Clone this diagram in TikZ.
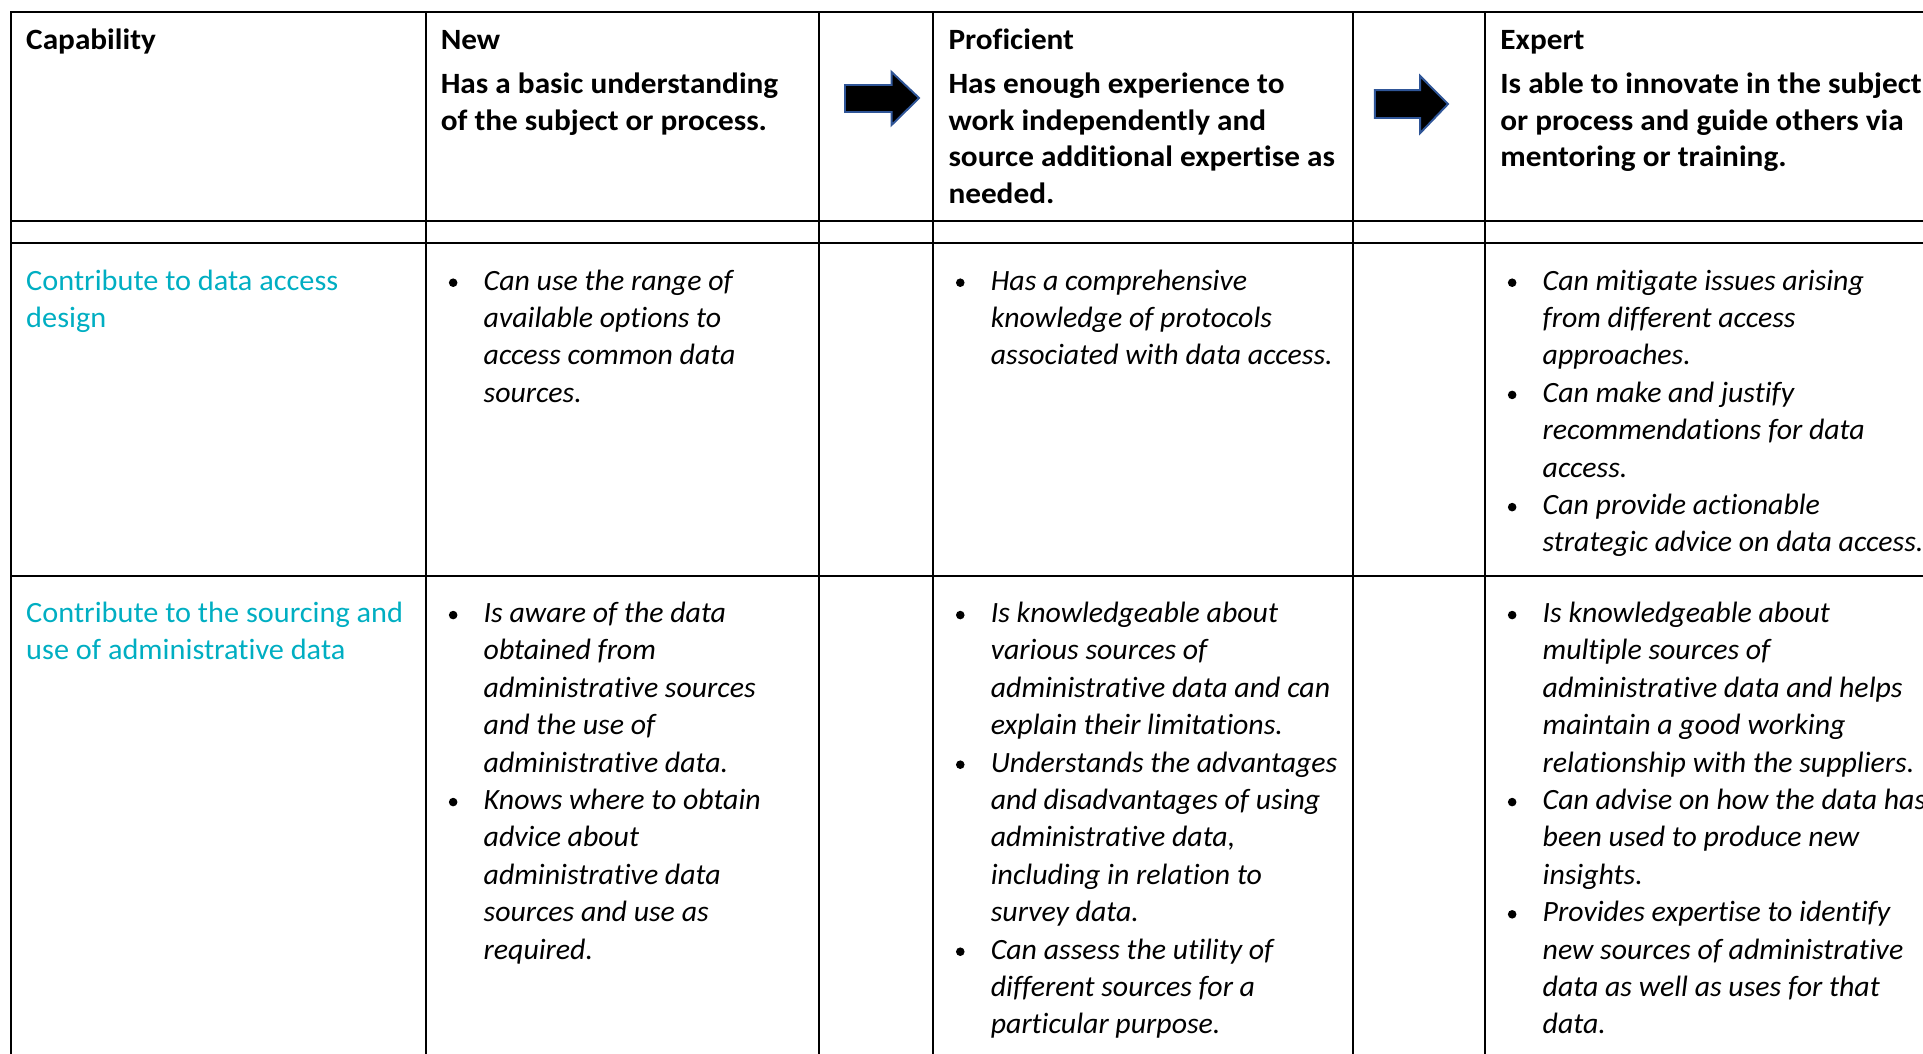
\documentclass[tikz,border=0pt]{standalone}
\usepackage{fontspec}
\setmainfont[Ligatures=NoCommon]{Carlito}
\newfontfamily\hdrfont[Ligatures=NoCommon,FakeStretch=1.062]{Carlito}
\newfontfamily\bodyfont[Ligatures=NoCommon,FakeStretch=1.014]{Carlito}
\newfontfamily\capfont[Ligatures=NoCommon,FakeStretch=1.03]{Carlito}
\definecolor{capcyan}{RGB}{0,174,194}
\definecolor{arrowblue}{RGB}{47,85,151}
\tikzset{
  gridline/.style={line width=0.8pt, black},
  hdrtxt/.style={font=\hdrfont\fontsize{12}{15}\selectfont\bfseries, anchor=base west, inner sep=0pt},
  bodytxt/.style={font=\bodyfont\fontsize{12}{15}\selectfont\itshape, anchor=base west, inner sep=0pt},
  captxt/.style={font=\capfont\fontsize{12}{15}\selectfont, text=capcyan, anchor=base west, inner sep=0pt},
  bulletdot/.style={circle, fill=black, inner sep=0pt, minimum size=3.5pt},
  fatarrow/.style={fill=black, draw=arrowblue, line width=0.8pt, line join=miter}
}
\begin{document}
\begin{tikzpicture}[x=0.5pt,y=-0.5pt]
\useasboundingbox (0,0) rectangle (1568,859);
\clip (0,0) rectangle (1568,859);
% grid
\draw[gridline] (1568,10) -- (9,10) -- (9,859);
\foreach \yy in {180,198,470} \draw[gridline] (9,\yy) -- (1568,\yy);
\foreach \xx in {347,668,761,1103,1211} \draw[gridline] (\xx,10) -- (\xx,859);
% arrows
\draw[fatarrow] (689,69.3) -- (727,69.3) -- (727,58.7) -- (749.4,79.9) -- (727,101.9) -- (727,91.3) -- (689,91.3) -- cycle;
\draw[fatarrow] (1121,73.4) -- (1158,73.4) -- (1158,62) -- (1180.7,84.8) -- (1158,108.5) -- (1158,96.2) -- (1121,96.2) -- cycle;
% header
\node[hdrtxt] (hcap) at (21,40.5) {Capability};
\node[hdrtxt] (hnew) at (359,40.5) {New};
\foreach \t [count=\i from 0] in {Has a basic understanding, of the subject or process.}
  \node[hdrtxt] (hnew-\i) at (359,76+30*\i) {\t};
\node[hdrtxt] (hpro) at (773,40.5) {Proficient};
\foreach \t [count=\i from 0] in {Has enough experience to, work independently and, source additional expertise as, needed.}
  \node[hdrtxt] (hpro-\i) at (773,76+30*\i) {\t};
\node[hdrtxt] (hexp) at (1223,40.5) {Expert};
\foreach \t [count=\i from 0] in {Is able to innovate in the subject, or process and guide others via, mentoring or training.}
  \node[hdrtxt] (hexp-\i) at (1223,76+30*\i) {\t};
% row 1
\foreach \t [count=\i from 0] in {Contribute to data access, design}
  \node[captxt] (c1-\i) at (21,236.5+30.5*\i) {\t};
\foreach \t [count=\i from 0] in {Can use the range of, available options to, access common data, sources.}
  \node[bodytxt] (n1-\i) at (394,236.5+30.5*\i) {\t};
\foreach \t [count=\i from 0] in {Has a comprehensive, knowledge of protocols, associated with data access.}
  \node[bodytxt] (p1-\i) at (807.5,236.5+30.5*\i) {\t};
\foreach \t [count=\i from 0] in {Can mitigate issues arising, from different access, approaches., Can make and justify, recommendations for data, access., Can provide actionable, strategic advice on data access.}
  \node[bodytxt] (e1-\i) at (1257.5,236.5+30.5*\i) {\t};
\node[bulletdot] (bn1-0) at (369.5,230.5) {};
\node[bulletdot] (bp1-0) at (783,230.5) {};
\foreach \k in {0,3,6} \node[bulletdot] (be1-\k) at (1233,230.5+30.5*\k) {};
% row 2
\foreach \t [count=\i from 0] in {Contribute to the sourcing and, use of administrative data}
  \node[captxt] (c2-\i) at (21,507.5+30.5*\i) {\t};
\foreach \t [count=\i from 0] in {Is aware of the data, obtained from, administrative sources, and the use of, administrative data., Knows where to obtain, advice about, administrative data, sources and use as, required.}
  \node[bodytxt] (n2-\i) at (394,507.5+30.5*\i) {\t};
\foreach \t [count=\i from 0] in {Is knowledgeable about, various sources of, administrative data and can, explain their limitations., Understands the advantages, and disadvantages of using, {administrative data,}, including in relation to, survey data., Can assess the utility of, different sources for a, particular purpose.}
  \node[bodytxt] (p2-\i) at (807.5,507.5+30.5*\i) {\t};
\foreach \t [count=\i from 0] in {Is knowledgeable about, multiple sources of, administrative data and helps, maintain a good working, relationship with the suppliers., Can advise on how the data has, been used to produce new, insights., Provides expertise to identify, new sources of administrative, data as well as uses for that, data.}
  \node[bodytxt] (e2-\i) at (1257.5,507.5+30.5*\i) {\t};
\foreach \k in {0,5} \node[bulletdot] (bn2-\k) at (369.5,501.5+30.5*\k) {};
\foreach \k in {0,4,9} \node[bulletdot] (bp2-\k) at (783,501.5+30.5*\k) {};
\foreach \k in {0,5,8} \node[bulletdot] (be2-\k) at (1233,501.5+30.5*\k) {};
\end{tikzpicture}
\end{document}
